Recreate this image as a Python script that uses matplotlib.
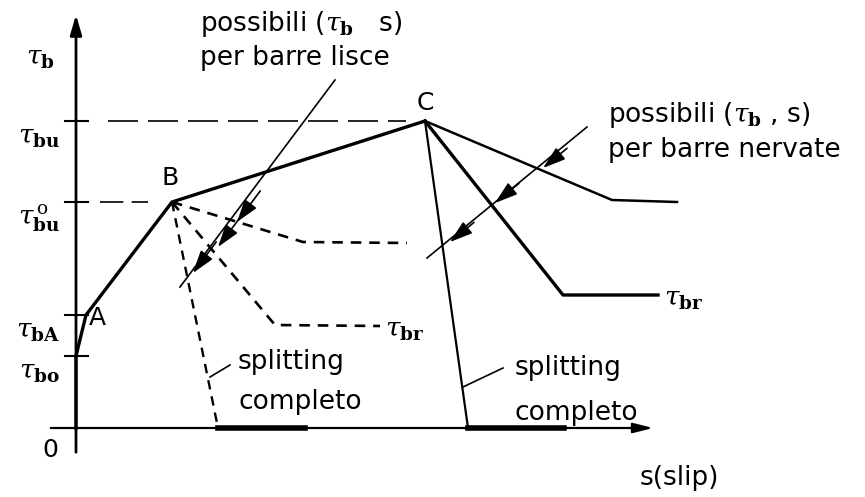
import matplotlib.pyplot as plt

# legame di aderenza tau_b - s (unità arbitrarie)
tau_b0 = 7.2
tau_bA = 11.3
tau_bu0 = 22.6
tau_bu = 30.7

# curva base O-A-B-C
curva_s = [0.0, 0.0, 1.0, 9.6, 34.9]
curva_tau = [0.0, tau_b0, tau_bA, tau_bu0, tau_bu]

# rami dopo C (barre nervate)
nerv_alto_s = [34.9, 53.6, 60.1]
nerv_alto_tau = [tau_bu, 22.8, 22.6]
nerv_br_s = [34.9, 48.7, 58.2]
nerv_br_tau = [tau_bu, 13.3, 13.3]
nerv_split_s = [34.9, 39.2]
nerv_split_tau = [tau_bu, 0.0]
nerv_fondo_s = [39.2, 48.8]

# rami dopo B (barre lisce)
lisce_alto_s = [9.6, 22.7, 33.1]
lisce_alto_tau = [tau_bu0, 18.6, 18.5]
lisce_br_s = [9.6, 19.9, 30.4]
lisce_br_tau = [tau_bu0, 10.3, 10.2]
lisce_split_s = [9.6, 14.2]
lisce_split_tau = [tau_bu0, 0.0]
lisce_fondo_s = [14.2, 22.9]

# frecce di richiamo
freccia_lisce = [(25.9, 34.8), (10.4, 14.1)]
punte_lisce = [(16.1, 20.6), (14.2, 18.1), (11.7, 15.5)]
freccia_nerv = [(51.1, 30.1), (35.1, 17.0)]
punte_nerv = [(46.7, 26.0), (41.9, 22.5), (37.4, 18.6)]

tick_y = [tau_bu, tau_bu0, tau_bA, tau_b0]
tick_lab = [r'$\tau_{\mathbf{bu}}$', r'$\tau^{\,\mathrm{o}}_{\mathbf{bu}}$',
            r'$\tau_{\mathbf{bA}}$', r'$\tau_{\mathbf{bo}}$']

fig = plt.figure(figsize=(8.65, 4.97), dpi=100)
ax = fig.add_axes([0, 0, 1, 1])
ax.set_xlim(-7.6, 78.9)
ax.set_ylim(-6.9, 42.8)
ax.axis('off')

plt.rcParams['mathtext.fontset'] = 'dejavuserif'
fs = 19

# assi
ax.annotate('', xy=(0, 41.6), xytext=(0, -2.7),
            arrowprops=dict(arrowstyle='-|>,head_length=1.2,head_width=0.35', color='k', lw=2))
ax.annotate('', xy=(58.0, 0), xytext=(-2.8, 0),
            arrowprops=dict(arrowstyle='-|>,head_length=1.2,head_width=0.3', color='k', lw=1.6))
for y in tick_y:
    ax.plot([-1.1, 1.2], [y, y], color='k', lw=1.5)

# linee di riferimento
ax.plot([3.2, 33.0], [tau_bu, tau_bu], color='k', lw=1.2, ls=(0, (18, 6)))
ax.plot([2.4, 7.2], [tau_bu0, tau_bu0], color='k', lw=1.2, ls=(0, (14, 5)))

# curva principale
ax.plot(curva_s, curva_tau, color='k', lw=2.4, solid_joinstyle='miter')
ax.plot(nerv_alto_s, nerv_alto_tau, color='k', lw=1.8)
ax.plot(nerv_br_s, nerv_br_tau, color='k', lw=2.4)
ax.plot(nerv_split_s, nerv_split_tau, color='k', lw=1.6)
ax.plot(nerv_fondo_s, [0, 0], color='k', lw=4)

ds = (0, (4, 3))
ax.plot(lisce_alto_s, lisce_alto_tau, color='k', lw=1.9, ls=ds)
ax.plot(lisce_br_s, lisce_br_tau, color='k', lw=1.9, ls=ds)
ax.plot(lisce_split_s, lisce_split_tau, color='k', lw=1.7, ls=ds)
ax.plot(lisce_fondo_s, [0, 0], color='k', lw=4)

# frecce di richiamo
for linea, punte in [(freccia_lisce, punte_lisce), (freccia_nerv, punte_nerv)]:
    (x0, y0), (x1, y1) = linea
    ax.plot([x0, x1], [y0, y1], color='k', lw=1.2)
    dx, dy = x1 - x0, y1 - y0
    for px, py in punte:
        ax.annotate('', xy=(px, py), xytext=(px - 0.15 * dx, py - 0.15 * dy),
                    arrowprops=dict(arrowstyle='-|>,head_length=1.4,head_width=0.45',
                                    color='k', lw=1.2, shrinkA=0, shrinkB=0))

# richiami "splitting completo"
ax.plot([13.4, 15.4], [5.1, 6.3], color='k', lw=1.2)
ax.plot([38.7, 42.7], [4.1, 6.0], color='k', lw=1.2)

# testi
ax.text(-3.6, 37.0, r'$\tau_{\mathbf{b}}$', fontsize=fs, ha='center', va='center')
for y, lab in zip(tick_y, tick_lab):
    ax.text(-1.6, y - 1.6, lab, fontsize=fs, ha='right', va='center')
ax.text(-2.6, -2.2, '0', fontsize=fs - 1, ha='center', va='center')
ax.text(2.1, 11.0, 'A', fontsize=fs - 1, ha='center', va='center')
ax.text(9.4, 25.0, 'B', fontsize=fs - 1, ha='center', va='center')
ax.text(34.9, 32.5, 'C', fontsize=fs - 1, ha='center', va='center')
ax.text(30.9, 9.8, r'$\tau_{\mathbf{br}}$', fontsize=fs, ha='left', va='center')
ax.text(58.8, 12.9, r'$\tau_{\mathbf{br}}$', fontsize=fs, ha='left', va='center')
ax.text(56.4, -5.0, 's(slip)', fontsize=fs, ha='left', va='center')

ax.text(12.4, 40.4, r'possibili ($\tau_{\mathbf{b}}$   s)', fontsize=fs, ha='left', va='center')
ax.text(12.4, 37.0, 'per barre lisce', fontsize=fs, ha='left', va='center')
ax.text(53.2, 31.3, r'possibili ($\tau_{\mathbf{b}}$ , s)', fontsize=fs, ha='left', va='center')
ax.text(53.2, 27.8, 'per barre nervate', fontsize=fs, ha='left', va='center')
ax.text(16.2, 6.6, 'splitting', fontsize=fs, ha='left', va='center')
ax.text(16.2, 2.6, 'completo', fontsize=fs, ha='left', va='center')
ax.text(43.9, 6.0, 'splitting', fontsize=fs, ha='left', va='center')
ax.text(43.9, 1.5, 'completo', fontsize=fs, ha='left', va='center')

fig.savefig('out.png', dpi=100)
